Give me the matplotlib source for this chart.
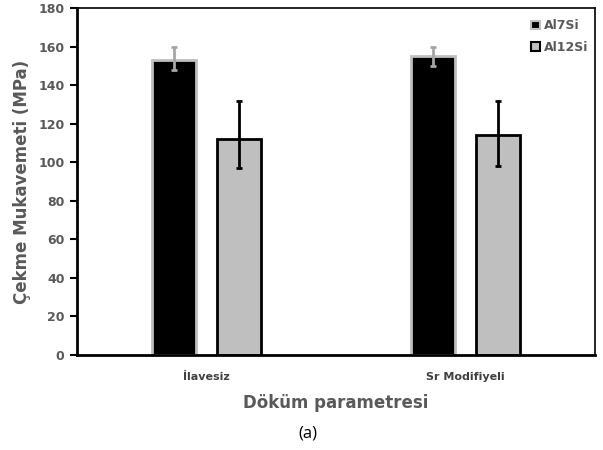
import matplotlib
matplotlib.use("Agg")
import matplotlib.pyplot as plt
import numpy as np
from matplotlib.patches import Patch

categories = ["İlavesiz", "Sr Modifiyeli"]
series = ["Al7Si", "Al12Si"]
al7si = [153, 155]
al7si_low = [148, 150]
al7si_high = [160, 160]
al12si = [112, 114]
al12si_low = [97, 98]
al12si_high = [132, 132]

gray = "#BFBFBF"
textgray = "#595959"

fig = plt.figure(figsize=(6.03, 4.5), dpi=100)
ax = fig.add_axes([77/603, 95/450, 518/603, 347/450])

x = np.arange(len(categories))
w = 0.17
off = 0.125

v1 = np.array(al7si); v2 = np.array(al12si)
e1 = [v1 - np.array(al7si_low), np.array(al7si_high) - v1]
e2 = [v2 - np.array(al12si_low), np.array(al12si_high) - v2]

ax.bar(x - off, v1, w, color="black", edgecolor=gray, linewidth=2, zorder=2)
ax.bar(x + off, v2, w, color=gray, edgecolor="black", linewidth=2, zorder=2)
ax.errorbar(x - off, v1, yerr=e1, fmt="none", ecolor="#A6A6A6", elinewidth=2,
            capsize=2, capthick=2, zorder=3)
ax.errorbar(x + off, v2, yerr=e2, fmt="none", ecolor="black", elinewidth=2,
            capsize=2, capthick=2, zorder=3)

ax.set_xlim(-0.5, 1.5)
ax.set_ylim(0, 180)
ax.set_yticks(np.arange(0, 181, 20))
ax.set_xticks(x)
ax.set_xticklabels(categories, fontsize=8, fontweight="bold", color="#404040")
ax.tick_params(axis="x", length=0, pad=12)
ax.tick_params(axis="y", direction="out", length=5, width=1.5, colors="black",
               labelcolor=textgray, labelsize=9, pad=4)
for lab in ax.get_yticklabels():
    lab.set_fontweight("bold")

for s in ["left", "bottom"]:
    ax.spines[s].set_linewidth(2)
for s in ["top", "right"]:
    ax.spines[s].set_linewidth(1.2)

ax.set_ylabel("Çekme Mukavemeti (MPa)", fontsize=12, fontweight="bold",
              color=textgray, labelpad=5)
ax.set_xlabel("Döküm parametresi", fontsize=12, fontweight="bold",
              color=textgray, labelpad=9)

handles = [Patch(facecolor="black", edgecolor=gray, linewidth=1.5),
           Patch(facecolor=gray, edgecolor="black", linewidth=1.5)]
leg = ax.legend(handles, series, loc="upper right", frameon=False,
                bbox_to_anchor=(1.008, 1.0), handlelength=0.7, handleheight=0.7,
                handletextpad=0.3, labelspacing=0.7,
                prop={"weight": "bold", "size": 9})
for t in leg.get_texts():
    t.set_color(textgray)

fig.text(308/603, 1 - 434/450, "(a)", ha="center", va="center",
         fontsize=12, color="black", family="Open Sans")

fig.savefig("out.png", dpi=100)
